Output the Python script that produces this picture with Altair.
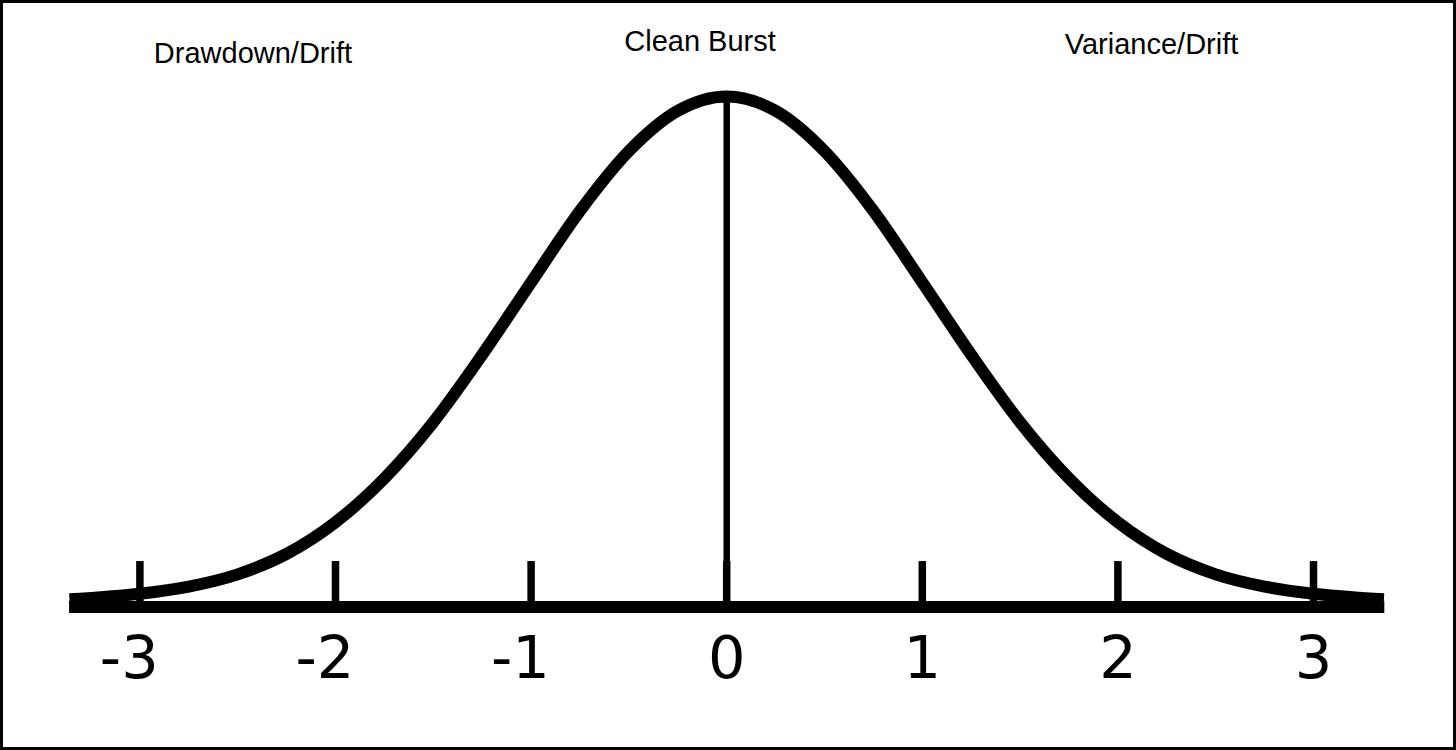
import altair as alt
import pandas as pd

# Bell curve: standardised position and relative height (peak = 1)
curve_x = [-3.36, -3.2, -3.0, -2.75, -2.5, -2.25, -2.0, -1.75, -1.5, -1.25, -1.0,
           -0.75, -0.5, -0.25, 0.0, 0.25, 0.5, 0.75, 1.0, 1.25, 1.5, 1.75, 2.0,
           2.25, 2.5, 2.75, 3.0, 3.2, 3.36]
curve_h = [0.015, 0.019, 0.026, 0.040, 0.064, 0.104, 0.166, 0.252, 0.362, 0.494, 0.636,
           0.776, 0.893, 0.972, 1.0, 0.972, 0.893, 0.776, 0.636, 0.494, 0.362, 0.252, 0.166,
           0.104, 0.064, 0.040, 0.026, 0.019, 0.015]

# Axis ticks and their labels
tick_values = [-3, -2, -1, 0, 1, 2, 3]
tick_labels = ["-3", "-2", "-1", "0", "1", "2", "3"]
tick_top = 0.090
label_h = -0.139

# Axis extent
axis_start = -3.362
axis_end = 3.362

# Centre marker
marker_x = 0.0
marker_bottom = 0.088
marker_top = 1.0

# Region captions
region_text = ["Drawdown/Drift", "Clean Burst", "Variance/Drift"]
region_x = [-2.422, -0.1365, 2.172]
region_h = [1.0656, 1.0897, 1.0827]

W, H = 1456, 750
xs = alt.Scale(domain=[-3.7152, 3.7285], nice=False, zero=False)
ys = alt.Scale(domain=[-0.2801, 1.1890], nice=False, zero=False)

curve_df = pd.DataFrame({"x": curve_x, "h": curve_h})
ticks_df = pd.DataFrame({"x": tick_values, "label": tick_labels,
                         "top": [tick_top] * len(tick_values),
                         "base": [0.0] * len(tick_values),
                         "lh": [label_h] * len(tick_values)})
axis_df = pd.DataFrame({"x": [axis_start], "x2": [axis_end], "y": [0.0]})
marker_df = pd.DataFrame({"x": [marker_x], "y": [marker_bottom], "y2": [marker_top]})
region_df = pd.DataFrame({"x": region_x, "h": region_h, "text": region_text})

axis_line = alt.Chart(axis_df).mark_rule(color="black", strokeWidth=12, strokeCap="butt").encode(
    x=alt.X("x:Q", scale=xs, axis=None),
    x2="x2:Q",
    y=alt.Y("y:Q", scale=ys, axis=None),
)

ticks = alt.Chart(ticks_df).mark_rule(color="black", strokeWidth=7.5, strokeCap="butt").encode(
    x=alt.X("x:Q", scale=xs, axis=None),
    y=alt.Y("base:Q", scale=ys, axis=None),
    y2="top:Q",
)

curve = alt.Chart(curve_df).mark_line(
    color="black", strokeWidth=12, interpolate="monotone", strokeCap="butt", strokeJoin="round"
).encode(
    x=alt.X("x:Q", scale=xs, axis=None),
    y=alt.Y("h:Q", scale=ys, axis=None),
)

marker = alt.Chart(marker_df).mark_rule(color="black", strokeWidth=6.5, strokeCap="butt").encode(
    x=alt.X("x:Q", scale=xs, axis=None),
    y=alt.Y("y:Q", scale=ys, axis=None),
    y2="y2:Q",
)

tick_text = alt.Chart(ticks_df).mark_text(
    font="DejaVu Sans", fontSize=59, color="black", align="right", baseline="alphabetic", dx=18.8
).encode(
    x=alt.X("x:Q", scale=xs, axis=None),
    y=alt.Y("lh:Q", scale=ys, axis=None),
    text="label:N",
)

region_labels = alt.Chart(region_df).mark_text(
    font="Liberation Sans", fontSize=29, color="black", align="center", baseline="alphabetic"
).encode(
    x=alt.X("x:Q", scale=xs, axis=None),
    y=alt.Y("h:Q", scale=ys, axis=None),
    text="text:N",
)

chart = alt.layer(axis_line, ticks, curve, marker, tick_text, region_labels).properties(
    width=W, height=H, padding=0, autosize=alt.AutoSizeParams(type="none"), background="white"
).configure_view(stroke="black", strokeWidth=6)

chart.save("out.html", embed_options={"renderer": "svg", "actions": False})
